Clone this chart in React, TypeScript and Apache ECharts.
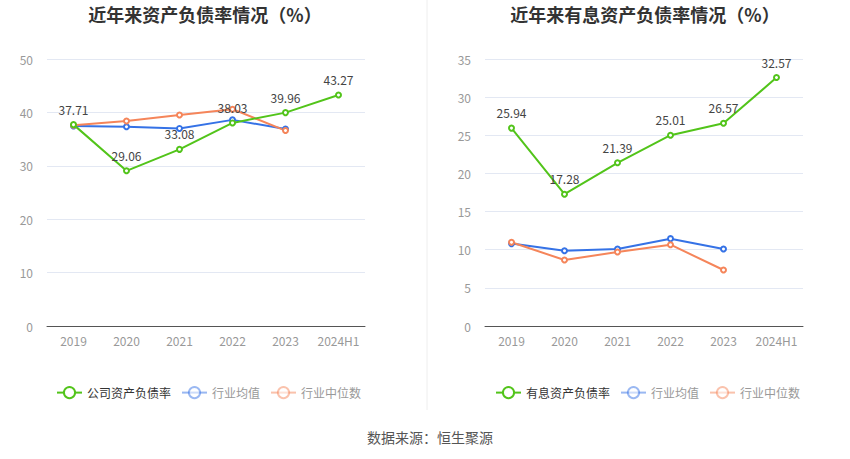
import React, { useEffect, useRef } from "react";
import * as echarts from "echarts";

const years = ["2019", "2020", "2021", "2022", "2023", "2024H1"];
const companyDebt = [37.71, 29.06, 33.08, 38.03, 39.96, 43.27];
const industryAvgL = [37.45, 37.3, 37.0, 38.6, 36.9];
const industryMedL = [37.6, 38.4, 39.5, 40.6, 36.6];
const interestDebt = [25.94, 17.28, 21.39, 25.01, 26.57, 32.57];
const industryAvgR = [10.8, 9.87, 10.1, 11.45, 10.1];
const industryMedR = [10.97, 8.65, 9.7, 10.66, 7.34];

const GREEN = "#52c41a";
const BLUE = "#3572e6";
const ORANGE = "#f5855a";

export default function App() {
  const ref = useRef<HTMLDivElement>(null);
  useEffect(() => {
    const chart = echarts.init(ref.current!, null, { renderer: "svg" });
    const font = "'Microsoft YaHei', 'Noto Sans CJK SC', sans-serif";
    const mkLine = (name: string, data: number[], color: string, idx: number, label: boolean) => ({
      name,
      type: "line",
      xAxisIndex: idx,
      yAxisIndex: idx,
      data,
      symbol: "emptyCircle",
      symbolSize: 5,
      lineStyle: { width: 2, color },
      itemStyle: { color, borderWidth: 1.5 },
      label: label
        ? { show: true, position: "top", color: "#444", fontSize: 12, distance: 6 }
        : { show: false },
      z: label ? 3 : 2,
    });
    const xAxis = (idx: number) => ({
      type: "category",
      gridIndex: idx,
      data: years,
      boundaryGap: true,
      axisLine: { lineStyle: { color: "#555" } },
      axisTick: { alignWithLabel: true, lineStyle: { color: "#555" } },
      axisLabel: { color: "#999", fontSize: 12, margin: 8, interval: 0 },
    });
    const yAxis = (idx: number, max: number, interval: number) => ({
      type: "value",
      gridIndex: idx,
      min: 0,
      max,
      interval,
      axisLine: { show: false },
      axisTick: { show: false },
      axisLabel: { color: "#999", fontSize: 12, margin: 14 },
      splitLine: { lineStyle: { color: "#e3e8f3" } },
    });
    const legendData = (first: string) => [
      { name: first, textStyle: { color: "#333" } },
      { name: "行业均值", itemStyle: { opacity: 0.5 }, lineStyle: { opacity: 0.5 }, textStyle: { color: "#999" } },
      { name: "行业中位数", itemStyle: { opacity: 0.5 }, lineStyle: { opacity: 0.5 }, textStyle: { color: "#999" } },
    ];
    chart.setOption({
      animation: false,
      textStyle: { fontFamily: font },
      title: [
        { text: "近年来资产负债率情况（%）", left: 200, top: 0, textAlign: "center", textStyle: { fontSize: 18, fontWeight: "bold", color: "#333" } },
        { text: "近年来有息资产负债率情况（%）", left: 640, top: 0, textAlign: "center", textStyle: { fontSize: 18, fontWeight: "bold", color: "#333" } },
        { text: "数据来源：恒生聚源", left: 425, top: 425, textAlign: "center", textStyle: { fontSize: 14, fontWeight: "normal", color: "#555" } },
      ],
      legend: [
        { left: 51, top: 381, itemWidth: 25, itemHeight: 14, itemGap: 10, textStyle: { fontSize: 12 }, data: legendData("公司资产负债率") },
        { left: 490, top: 381, itemWidth: 25, itemHeight: 14, itemGap: 10, textStyle: { fontSize: 12 }, data: legendData("有息资产负债率") },
      ],
      grid: [
        { left: 47, right: 485, top: 59, bottom: 133 },
        { left: 485, right: 47, top: 59, bottom: 133 },
      ],
      xAxis: [xAxis(0), xAxis(1)],
      yAxis: [yAxis(0, 50, 10), yAxis(1, 35, 5)],
      graphic: [
        { type: "line", shape: { x1: 427, y1: 0, x2: 427, y2: 410 }, style: { stroke: "#eeeeee", lineWidth: 1 } },
      ],
      series: [
        mkLine("行业均值", industryAvgL, BLUE, 0, false),
        mkLine("行业中位数", industryMedL, ORANGE, 0, false),
        mkLine("公司资产负债率", companyDebt, GREEN, 0, true),
        mkLine("行业均值", industryAvgR, BLUE, 1, false),
        mkLine("行业中位数", industryMedR, ORANGE, 1, false),
        mkLine("有息资产负债率", interestDebt, GREEN, 1, true),
      ],
    });
    return () => chart.dispose();
  }, []);
  return <div ref={ref} style={{ width: 850, height: 459, position: "absolute", left: 0, top: 0 }} />;
}
